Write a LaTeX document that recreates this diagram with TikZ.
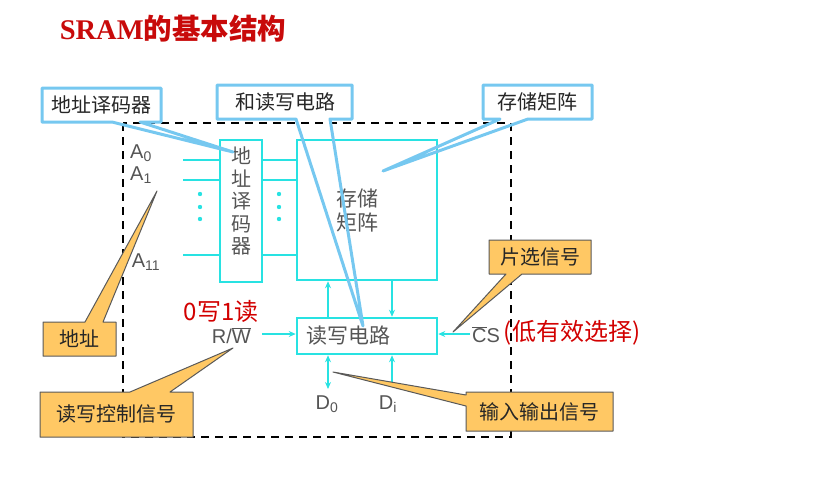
\documentclass[tikz,border=0pt]{standalone}
\usepackage{fontspec}
\setmainfont{Liberation Sans}
\newfontfamily\cjk{Noto Sans CJK SC}
\newfontfamily\titleserif{Liberation Serif}
\usetikzlibrary{arrows.meta}
\definecolor{cy}{RGB}{40,226,226}
\definecolor{lblue}{RGB}{118,200,240}
\definecolor{orng}{RGB}{255,200,100}
\definecolor{gtext}{RGB}{85,85,85}
\definecolor{dred}{RGB}{200,10,10}
\definecolor{hred}{RGB}{210,0,0}
\tikzset{
  cybox/.style={draw=cy,line width=2.5pt,minimum width=#1,inner sep=0pt},
  cyline/.style={draw=cy,line width=2.2pt},
  arr/.style={draw=cy,line width=2pt,-{Stealth[length=7pt,width=6pt]}},
  darr/.style={draw=cy,line width=2pt,{Stealth[length=7pt,width=6pt]}-{Stealth[length=7pt,width=6pt]}},
  glabel/.style={text=gtext,font=\fontsize{20}{22}\selectfont,inner sep=0pt},
  gcjk/.style={text=gtext,font=\cjk\fontsize{20}{23}\selectfont,inner sep=0pt,align=center},
  bluecall/.style={draw=lblue,line width=3pt,line join=round},
  orcall/.style={draw=black!65,line width=1pt,fill=orng,line join=round},
  calltext/.style={text=black!85,font=\cjk\fontsize{20}{24}\selectfont,inner sep=0pt},
  hand/.style={text=hred,font=\cjk\fontsize{24}{26}\selectfont,inner sep=0pt},
}
\begin{document}
\begin{tikzpicture}[x=1pt,y=-1pt]
\useasboundingbox (0,0) rectangle (827,477);
% title
\node[inner sep=0pt,text=dred] (title) at (173,29)
  {\titleserif\bfseries\fontsize{28.5}{31}\selectfont SRAM\cjk\fontsize{28.5}{31}\selectfont 的基本结构};
% dashed frame
\draw[black,line width=2pt,dash pattern=on 8pt off 6pt] (123,123) rectangle (511,437);
% boxes
\node[cybox=42pt,minimum height=142pt] (dec) at (241,211) {};
\node[cybox=140pt,minimum height=140pt] (mat) at (367,210) {};
\node[cybox=140pt,minimum height=36pt] (rw) at (367,336) {};
\node[gcjk,font=\cjk\fontsize{20}{22.5}\selectfont] (dectxt) at (241,201) {地\\址\\译\\码\\器};
\node[gcjk,font=\cjk\fontsize{21}{24}\selectfont] (mattxt) at (357,210) {存储\\矩阵};
\node[gcjk,font=\cjk\fontsize{21}{24}\selectfont] (rwtxt) at (348,336) {读写电路};
% address lines
\coordinate (a0) at (183,160);
\coordinate (a1) at (183,180);
\coordinate (a11) at (183,255);
\draw[cyline] (a0) -- (a0 -| dec.west);
\draw[cyline] (a1) -- (a1 -| dec.west);
\draw[cyline] (a11) -- (a11 -| dec.west);
\draw[cyline] (a0 -| dec.east) -- (a0 -| mat.west);
\draw[cyline] (a1 -| dec.east) -- (a1 -| mat.west);
\draw[cyline] (a11 -| dec.east) -- (a11 -| mat.west);
\foreach \y in {194,207,219}{
  \fill[cy] (200,\y) circle (2.2pt);
  \fill[cy] (279,\y) circle (2.2pt);
}
\node[glabel] (A0) at (141,153) {A\textsubscript{0}};
\node[glabel] (A1) at (141,175) {A\textsubscript{1}};
\node[glabel] (A11) at (146,262) {A\textsubscript{11}};
% read/write connections
\coordinate (xl) at (328,0);
\coordinate (xr) at (392,0);
\coordinate (d0end) at (328,389);
\coordinate (diend) at (392,385);
\draw[arr] (rw.north -| xl) -- (mat.south -| xl);
\draw[arr] (mat.south -| xr) -- (rw.north -| xr);
\draw[darr] (rw.south -| xl) -- (d0end);
\draw[arr] (diend) -- (rw.south -| xr);
\node[glabel] (D0) at (327,404) {D\textsubscript{0}};
\node[glabel] (Di) at (388,404) {D\textsubscript{i}};
\node[glabel,anchor=east] (RW) at (251,336) {R/$\overline{\mbox{W}}$};
\node[glabel,anchor=west] (CS) at (472,335) {$\overline{\mbox{C}}$S};
\coordinate (rwin) at (262,334);
\coordinate (csin) at (470,334);
\draw[arr] (rwin) -- (rwin -| rw.west);
\draw[arr] (csin) -- (csin -| rw.east);
% handwriting
\node[hand] (hw1) at (221,311) {0写1读};
\node[hand] (hw2) at (572,333) {(低有效选择)};
% blue callouts
\fill[white] (42,88) rectangle (161,122);
\draw[bluecall] (42,88) -- (161,88) -- (161,122) -- (140,122) -- (233,152) -- (112,122) -- (42,122) -- cycle;
\node[calltext] (c1) at (101,105) {地址译码器};
\fill[white] (217,85) rectangle (352,119);
\draw[bluecall] (217,85) -- (352,85) -- (352,119) -- (330,119) -- (363,326) -- (296,119) -- (217,119) -- cycle;
\node[calltext] (c2) at (285,102) {和读写电路};
\fill[white] (483,85) rectangle (592,119);
\draw[bluecall] (483,85) -- (592,85) -- (592,119) -- (528,119) -- (383,171) -- (500,119) -- (483,119) -- cycle;
\node[calltext] (c3) at (537,102) {存储矩阵};
% orange callouts
\draw[orcall] (43,322) -- (85,322) -- (157,191) -- (103,322) -- (116,322) -- (116,356) -- (43,356) -- cycle;
\node[calltext] (c4) at (79,339) {地址};
\draw[orcall] (40,392) -- (130,392) -- (233,348) -- (170,392) -- (193,392) -- (193,437) -- (40,437) -- cycle;
\node[calltext] (c5) at (116,414) {读写控制信号};
\draw[orcall] (489,240) -- (591,240) -- (591,274) -- (522,274) -- (453,332) -- (506,274) -- (489,274) -- cycle;
\node[calltext] (c6) at (540,257) {片选信号};
\draw[orcall] (466,392) -- (613,392) -- (613,431) -- (466,431) -- (466,406) -- (333,372) -- (466,395) -- cycle;
\node[calltext] (c7) at (539,412) {输入输出信号};
\end{tikzpicture}
\end{document}
